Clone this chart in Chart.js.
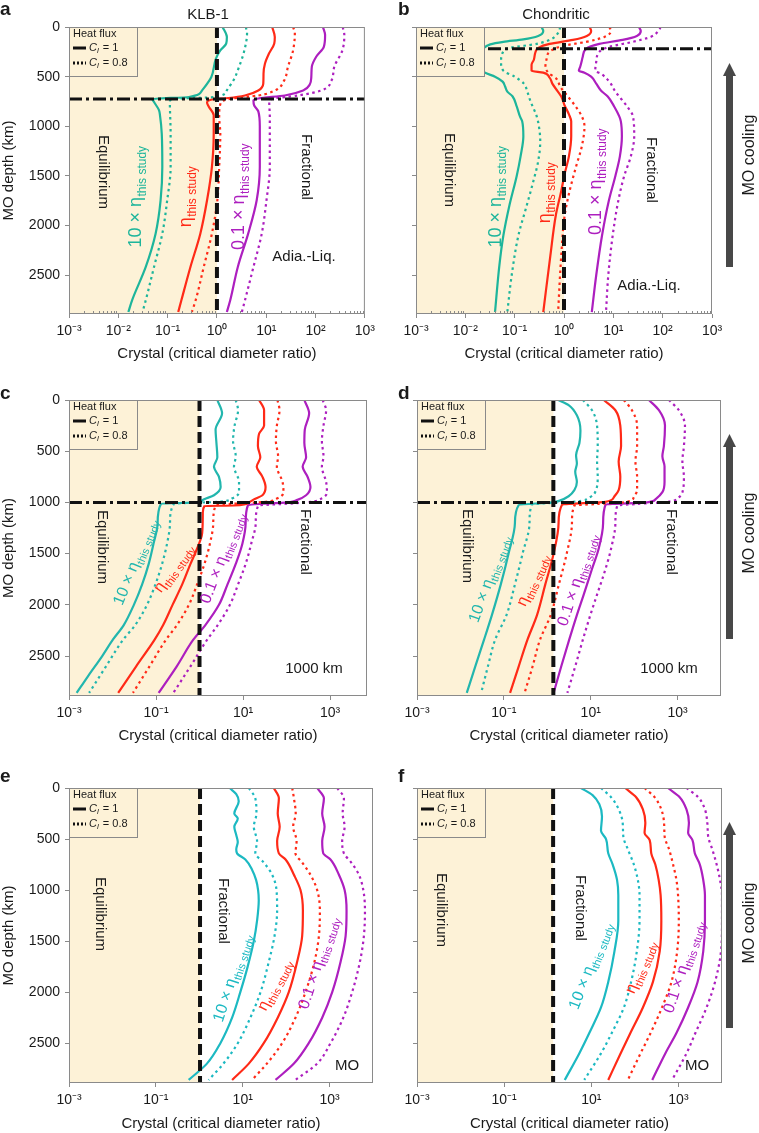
<!DOCTYPE html>
<html>
<head>
<meta charset="utf-8">
<script src="https://cdn.jsdelivr.net/npm/chart.js@4.4.1/dist/chart.umd.min.js"></script>
<style>
body{margin:0;background:#fff;width:759px;height:1133px;position:relative;overflow:hidden}
canvas{position:absolute}
</style>
</head>
<body>
<canvas id="pa"></canvas><canvas id="pb"></canvas>
<canvas id="pc"></canvas><canvas id="pd"></canvas>
<canvas id="pe"></canvas><canvas id="pf"></canvas>
<script>
// tick values and labels
const depthTicks = [0, 500, 1000, 1500, 2000, 2500];
const depthMax = 2890;
const xMin = 0.001;
const xTicksAB = [0.001, 0.01, 0.1, 1, 10, 100, 1000];
const xLabelsAB = ['10⁻³', '10⁻²', '10⁻¹', '10⁰', '10¹', '10²', '10³'];
const xTicksCF = [0.001, 0.1, 10, 1000];
const xLabelsCF = ['10⁻³', '10⁻¹', '10¹', '10³'];
const minorSteps = [2, 3, 4, 5, 6, 7, 8, 9];

// equilibrium / fractional boundary and transition depth (km)
const boundary = {a: 1, b: 1, c: 1, d: 1.38, e: 1.04, f: 1.33};
const transition = {a: 725, b: 220, c: 1000, d: 1000};

// curves: [crystal ratio, depth km]; _1 = C_l 1 (solid), _08 = C_l 0.8 (dotted)
const a_teal_1 = [[1.3,0],[1.59,100],[1.54,168],[1.17,235],[0.95,320],[0.77,503],[0.50,638],[0.27,705],[0.049,725],[0.053,755],[0.067,839],[0.070,889],[0.076,1074],[0.078,1410],[0.072,1745],[0.057,2081],[0.036,2416],[0.019,2752],[0.016,2870]];
const a_teal_08 = [[3.84,0],[4.08,60],[3.6,235],[2.8,403],[2.17,537],[1.59,638],[0.93,705],[0.124,725],[0.111,755],[0.115,1074],[0.115,1410],[0.098,1745],[0.078,2081],[0.053,2416],[0.036,2752],[0.031,2870]];
const a_red_1 = [[13.2,0],[14.9,100],[14.5,168],[11.3,270],[9.4,370],[8.8,470],[8.7,570],[6.9,640],[3.7,690],[1.72,715],[0.79,730],[0.63,760],[0.68,800],[0.86,889],[0.86,1074],[0.79,1410],[0.63,1745],[0.46,2081],[0.29,2416],[0.19,2752],[0.164,2870]];
const a_red_08 = [[35,0],[38,60],[35,235],[27.6,400],[23,540],[14.9,640],[6.9,690],[2.0,720],[1.2,760],[1.11,900],[1.17,1074],[1.11,1410],[1.02,1745],[0.79,2081],[0.54,2416],[0.37,2752],[0.31,2870]];
const a_purple_1 = [[141,0],[156,80],[147,200],[103,300],[84,400],[82,500],[76,580],[56,640],[23.8,690],[6.9,720],[5.5,740],[5.7,790],[6.9,850],[7.4,1000],[7.4,1410],[6.4,1745],[4.3,2081],[2.65,2416],[1.86,2752],[1.59,2870]];
const a_purple_08 = [[355,0],[383,80],[350,235],[240,400],[209,540],[130,640],[44,690],[12.8,725],[11.5,760],[11.8,900],[11.8,1410],[10.1,1745],[8.1,2081],[5.5,2416],[3.7,2752],[3.2,2870]];

const b_teal_1 = [[0.35,0],[0.38,40],[0.30,90],[0.149,125],[0.059,150],[0.032,175],[0.023,220],[0.0186,350],[0.025,460],[0.040,500],[0.057,550],[0.064,600],[0.071,650],[0.091,700],[0.11,800],[0.128,900],[0.142,950],[0.15,1100],[0.132,1300],[0.11,1500],[0.078,1800],[0.059,2100],[0.049,2400],[0.040,2870]];
const b_teal_08 = [[0.84,0],[0.76,60],[0.56,120],[0.28,170],[0.081,210],[0.057,260],[0.053,350],[0.059,440],[0.10,500],[0.154,570],[0.18,650],[0.21,750],[0.28,900],[0.31,1000],[0.33,1150],[0.30,1350],[0.24,1550],[0.175,1800],[0.119,2100],[0.087,2500],[0.071,2870]];
const b_red_1 = [[3.3,0],[3.55,40],[2.9,90],[1.52,130],[0.51,170],[0.30,210],[0.265,250],[0.245,330],[0.22,380],[0.22,440],[0.38,460],[0.51,510],[0.58,570],[0.68,620],[0.88,700],[1.03,790],[1.26,880],[1.40,950],[1.40,1100],[1.26,1300],[1.03,1480],[0.88,1650],[0.68,1900],[0.53,2300],[0.38,2870]];
const b_red_08 = [[8.3,0],[8.9,40],[6.6,100],[2.8,150],[0.95,190],[0.51,250],[0.44,330],[0.42,400],[0.48,460],[0.70,520],[0.84,600],[1.2,700],[1.72,800],[2.3,900],[2.6,1000],[2.3,1200],[1.77,1400],[1.3,1650],[1.03,1900],[0.88,2300],[0.76,2870]];
const b_purple_1 = [[33,0],[36,40],[30,90],[15.4,130],[5.2,170],[2.8,220],[2.4,300],[2.13,400],[2.0,440],[2.6,460],[3.55,500],[4.5,570],[5.6,640],[7.7,700],[10.4,800],[13.2,900],[14.2,950],[14.9,1100],[13.6,1300],[11.0,1500],[8.1,1750],[5.9,2100],[4.5,2500],[3.66,2870]];
const b_purple_08 = [[91,0],[82,40],[57,100],[24.5,150],[8.3,200],[5.2,250],[4.5,350],[4.3,440],[5.6,470],[8.3,550],[11.0,650],[14.2,720],[19,800],[25,900],[26.5,1100],[22.7,1300],[16.6,1500],[12.6,1750],[9.7,2100],[7.9,2500],[7.1,2870]];

const c_teal_1 = [[2.57,0],[3.3,130],[2.34,290],[2.45,420],[2.57,560],[2.15,650],[2.8,750],[3.06,850],[2.15,930],[1.15,980],[0.88,1000],[0.13,1012],[0.109,1200],[0.088,1400],[0.068,1600],[0.048,1800],[0.031,2000],[0.018,2200],[0.0102,2340],[0.0058,2500],[0.0027,2700],[0.0015,2860]];
const c_teal_08 = [[6.8,0],[7.7,100],[6.4,250],[5.9,400],[6.8,550],[6.2,650],[8.1,800],[8.1,900],[5.7,960],[2.57,995],[0.26,1012],[0.21,1200],[0.18,1400],[0.138,1600],[0.097,1800],[0.062,2000],[0.033,2200],[0.0176,2340],[0.0071,2600],[0.0029,2860]];
const c_red_1 = [[23.4,0],[30.5,100],[30.5,250],[23.4,330],[22,450],[25,560],[20.7,650],[28,750],[33,850],[28,930],[17.8,970],[13.8,1000],[6.2,1030],[1.3,1035],[1.19,1100],[1.15,1300],[0.88,1450],[0.62,1600],[0.40,1800],[0.24,2000],[0.145,2200],[0.093,2340],[0.035,2600],[0.0135,2860]];
const c_red_08 = [[62,0],[69,100],[60,250],[57,400],[64,550],[60,650],[81,800],[85,900],[62,960],[30.5,995],[5.2,1015],[2.34,1030],[2.07,1200],[1.74,1400],[1.3,1600],[0.88,1800],[0.57,2000],[0.30,2200],[0.17,2340],[0.071,2600],[0.0295,2860]];
const c_purple_1 = [[257,0],[331,130],[263,290],[257,420],[282,560],[235,650],[305,750],[355,850],[282,930],[178,975],[105,1000],[13,1025],[11.5,1200],[9.7,1400],[6.8,1600],[4.4,1800],[2.8,2000],[1.35,2200],[0.72,2340],[0.30,2600],[0.115,2860]];
const c_purple_08 = [[676,0],[813,100],[708,250],[650,400],[708,550],[650,650],[813,800],[850,900],[650,960],[363,995],[89,1015],[22.4,1030],[19.6,1200],[15.5,1400],[11.5,1600],[7.7,1800],[5.0,2000],[2.6,2200],[1.5,2340],[0.62,2600],[0.25,2860]];

const d_teal_1 = [[1.8,0],[3.1,50],[4.8,150],[5.8,300],[5.5,420],[4.6,540],[4.8,620],[4.4,700],[4.8,800],[4.2,880],[3.1,940],[2.0,980],[1.3,1000],[0.22,1025],[0.18,1200],[0.128,1500],[0.085,1800],[0.053,2100],[0.035,2340],[0.022,2600],[0.014,2860]];
const d_teal_08 = [[6.6,0],[10.7,100],[14,250],[14.5,450],[14,600],[14.5,750],[13.2,880],[9.5,950],[4.8,990],[0.44,1020],[0.39,1200],[0.27,1500],[0.18,1800],[0.115,2100],[0.063,2340],[0.043,2600],[0.030,2860]];
const d_red_1 = [[20,0],[37,100],[48,250],[50,450],[44,600],[48,750],[44,880],[34,950],[22,995],[2.2,1020],[1.82,1200],[1.4,1500],[0.90,1800],[0.58,2100],[0.35,2340],[0.22,2600],[0.139,2860]];
const d_red_08 = [[58,0],[89,100],[117,250],[117,450],[107,600],[117,750],[117,880],[98,950],[69,995],[14,1015],[4.2,1030],[3.7,1200],[2.8,1500],[1.85,1800],[1.2,2100],[0.68,2340],[0.46,2600],[0.30,2860]];
const d_purple_1 = [[219,0],[372,100],[513,250],[484,450],[447,550],[501,650],[501,800],[447,900],[309,970],[199,1000],[22,1020],[19.3,1200],[15.3,1450],[10.7,1650],[6.9,1900],[4.8,2100],[3.2,2340],[2.1,2600],[1.4,2860]];
const d_purple_08 = [[631,0],[1070,100],[1480,250],[1400,450],[1290,600],[1400,750],[1330,880],[1070,950],[575,995],[117,1015],[41,1030],[37,1200],[29.5,1450],[21.9,1650],[14,1900],[9.8,2100],[6.6,2340],[4.4,2600],[2.9,2860]];

const e_teal_1 = [[5.0,0],[7.1,60],[8.1,130],[6.4,250],[7.7,300],[6.4,380],[7.1,460],[7.7,530],[7.1,600],[7.4,640],[11.5,700],[16.4,800],[20.3,900],[22.6,1000],[23.4,1100],[21.4,1300],[18,1500],[13,1750],[8.8,2000],[5.7,2250],[3.06,2500],[1.5,2700],[0.57,2860]];
const e_teal_08 = [[13.8,0],[19.5,100],[20.7,250],[18,380],[21.4,520],[19.5,640],[30.5,730],[47.6,850],[60,1000],[62,1200],[54,1450],[40,1700],[25.7,2000],[15,2250],[7.7,2500],[3.6,2700],[1.64,2860]];
const e_red_1 = [[52,0],[68,100],[64,250],[71,380],[62,520],[68,640],[97,700],[151,850],[214,1000],[243,1200],[234,1450],[180,1700],[115,2000],[64,2250],[30.5,2500],[13.8,2700],[5.7,2860]];
const e_red_08 = [[138,0],[151,100],[166,250],[145,380],[174,520],[164,640],[234,730],[363,850],[519,1000],[598,1200],[568,1450],[451,1700],[279,2000],[164,2250],[81,2500],[36,2700],[16.4,2860]];
const e_purple_1 = [[519,0],[741,100],[676,250],[767,380],[676,520],[714,640],[1050,700],[1640,850],[2220,1000],[2460,1200],[2340,1450],[1800,1700],[1150,2000],[676,2250],[331,2500],[151,2700],[57,2860]];
const e_purple_08 = [[1500,0],[2140,100],[2000,250],[2220,380],[1950,520],[2140,640],[3160,730],[4750,850],[5980,1000],[6530,1200],[6170,1450],[5010,1700],[3310,2000],[2070,2250],[1050,2500],[519,2700],[164,2860]];

const f_teal_1 = [[5.8,0],[10.7,70],[15.3,160],[17.6,280],[16.7,420],[21.8,500],[24.5,640],[31,750],[39,900],[41.7,1050],[41.7,1300],[34,1600],[24.5,1900],[16.7,2150],[9,2400],[5.3,2600],[2.46,2860]];
const f_teal_08 = [[16.7,0],[28.4,90],[42.7,210],[52.5,340],[54.5,480],[69,600],[95,750],[117,900],[128,1050],[128,1300],[111,1600],[82,1900],[56,2150],[29.5,2400],[16.7,2600],[6.9,2860]];
const f_red_1 = [[60,0],[107,90],[153,210],[174,340],[167,440],[219,510],[238,640],[295,750],[352,900],[390,1050],[405,1300],[372,1600],[260,1900],[153,2150],[79,2400],[47,2600],[24.5,2860]];
const f_red_08 = [[167,0],[284,90],[405,210],[468,340],[484,480],[610,600],[754,750],[900,900],[980,1050],[1020,1300],[935,1600],[692,1900],[420,2150],[230,2400],[135,2600],[69,2860]];
const f_purple_1 = [[575,0],[1070,90],[1530,210],[1740,340],[1670,440],[2100,510],[2380,640],[3100,750],[3710,900],[4060,1050],[4060,1300],[3710,1600],[2750,1900],[1670,2150],[900,2400],[500,2600],[251,2860]];
const f_purple_08 = [[1530,0],[2840,90],[4060,210],[4600,340],[4840,480],[5980,600],[7540,750],[9000,900],[10000,1050],[10000,1300],[9480,1600],[6920,1900],[4430,2150],[2450,2400],[1530,2600],[714,2860]];

const FONT = "'Liberation Sans', Arial, Helvetica, sans-serif";
const TEXT = '#1a1a1a';
const RED = '#ff2a17';
const PURPLE = '#ad1fbf';
const YELLOW = '#fdf2d7';
const FRAME = '#8a8a8a';

function pts(arr) { return arr.map(p => ({x: p[0], y: p[1]})); }

function rotText(ctx, s, x, y, rot, size, color) {
    ctx.save();
    ctx.translate(x, y);
    ctx.rotate(rot * Math.PI / 180);
    ctx.fillStyle = color || TEXT;
    ctx.font = size + 'px ' + FONT;
    ctx.textAlign = 'center';
    ctx.textBaseline = 'middle';
    ctx.fillText(s, 0, 0);
    ctx.restore();
}

function etaLabel(ctx, pre, x, y, rot, color, size) {
    const sub = Math.round(size * 0.68);
    ctx.save();
    ctx.translate(x, y);
    ctx.rotate(rot * Math.PI / 180);
    ctx.fillStyle = color;
    ctx.textBaseline = 'alphabetic';
    ctx.font = size + 'px ' + FONT;
    const main = pre + 'η';
    const w1 = ctx.measureText(main).width;
    ctx.font = sub + 'px ' + FONT;
    const w2 = ctx.measureText('this study').width;
    const x0 = -(w1 + w2) / 2;
    ctx.font = size + 'px ' + FONT;
    ctx.fillText(main, x0, size * 0.3);
    ctx.font = sub + 'px ' + FONT;
    ctx.fillText('this study', x0 + w1 + 0.5, size * 0.3 + sub * 0.4);
    ctx.restore();
}

function legendRow(ctx, L, y, val, dotted) {
    ctx.save();
    ctx.strokeStyle = '#111';
    ctx.lineWidth = 3;
    if (dotted) ctx.setLineDash([2, 2]);
    ctx.beginPath(); ctx.moveTo(L + 4, y); ctx.lineTo(L + 17, y); ctx.stroke();
    ctx.restore();
    ctx.fillStyle = TEXT;
    ctx.textBaseline = 'middle';
    ctx.textAlign = 'left';
    let x = L + 20;
    ctx.font = 'italic 11px ' + FONT;
    ctx.fillText('C', x, y);
    x += ctx.measureText('C').width;
    ctx.font = 'italic 8px ' + FONT;
    ctx.fillText('l', x, y + 3);
    x += ctx.measureText('l').width + 1;
    ctx.font = '11px ' + FONT;
    ctx.fillText(' = ' + val, x, y);
}

const panelDeco = {
    id: 'panelDeco',
    beforeDatasetsDraw(chart, args, o) {
        const {ctx, chartArea: ca} = chart;
        const bx = chart.scales.x.getPixelForValue(o.boundary);
        ctx.save();
        ctx.fillStyle = YELLOW;
        ctx.fillRect(ca.left, ca.top, bx - ca.left, ca.bottom - ca.top);
        ctx.restore();
    },
    afterDatasetsDraw(chart, args, o) {
        const {ctx, chartArea: ca} = chart;
        const sx = chart.scales.x;
        const ox = o.ox, oy = o.oy;
        ctx.save();
        // frame
        ctx.strokeStyle = FRAME;
        ctx.lineWidth = 1;
        ctx.strokeRect(ca.left + 0.5, ca.top + 0.5, ca.right - ca.left - 1, ca.bottom - ca.top - 1);
        // minor ticks inside bottom axis
        if (o.minor) {
            ctx.beginPath();
            for (let n = -3; n < 3; n++) {
                minorSteps.forEach(m => {
                    const px = Math.round(sx.getPixelForValue(m * Math.pow(10, n))) + 0.5;
                    ctx.moveTo(px, ca.bottom);
                    ctx.lineTo(px, ca.bottom - 3);
                });
            }
            ctx.stroke();
        }
        // legend box
        const L = ca.left, T = ca.top;
        ctx.fillStyle = YELLOW;
        ctx.fillRect(L, T, 68, 49);
        ctx.strokeStyle = FRAME;
        ctx.strokeRect(L + 0.5, T + 0.5, 68, 49);
        ctx.fillStyle = TEXT;
        ctx.font = '11px ' + FONT;
        ctx.textBaseline = 'middle';
        ctx.textAlign = 'left';
        ctx.fillText('Heat flux', L + 4, T + 7);
        legendRow(ctx, L, T + 21, '1', false);
        legendRow(ctx, L, T + 36, '0.8', true);
        // panel letter and title
        ctx.font = 'bold 19px ' + FONT;
        ctx.textBaseline = 'alphabetic';
        ctx.fillText(o.letter[0], o.letter[1] - ox, o.letter[2] - oy);
        if (o.title) rotText(ctx, o.title[0], o.title[1] - ox, o.title[2] - oy, 0, 15);
        // region labels
        o.texts.forEach(t => rotText(ctx, t[0], t[1] - ox, t[2] - oy, t[3], 15));
        // curve labels
        const cols = [o.teal, RED, PURPLE];
        o.etas.forEach((e, i) => etaLabel(ctx, e[0], e[1] - ox, e[2] - oy, e[3], cols[i], o.etaSize));
        // MO cooling arrow
        if (o.arrow) {
            const [ax, tip, bot, ty] = o.arrow;
            const x = ax - ox;
            ctx.fillStyle = '#484848';
            ctx.fillRect(x - 3.5, tip + 12 - oy, 7, bot - tip - 12);
            ctx.beginPath();
            ctx.moveTo(x, tip - oy);
            ctx.lineTo(x + 6.5, tip + 13 - oy);
            ctx.lineTo(x - 6.5, tip + 13 - oy);
            ctx.closePath();
            ctx.fill();
            rotText(ctx, 'MO cooling', 750 - ox, ty - oy, -90, 16);
        }
        ctx.restore();
    }
};
Chart.register(panelDeco);

function makePanel(p) {
    const cv = document.getElementById('p' + p.id);
    const [ox, oy, w, h] = p.canvas;
    const [L, T, R, B] = p.area;
    cv.width = w; cv.height = h;
    cv.style.left = ox + 'px'; cv.style.top = oy + 'px';

    const ds = [];
    ds.push({data: pts([[boundary[p.id], 0], [boundary[p.id], depthMax]]),
        borderColor: '#111', borderWidth: 4, borderDash: [11, 5], tension: 0});
    if (transition[p.id] != null) {
        ds.push({data: pts([[xMin, transition[p.id]], [p.xMax, transition[p.id]]]),
            borderColor: '#111', borderWidth: 3, borderDash: [13, 4, 3, 4], tension: 0});
    }
    const colors = [p.teal, p.teal, RED, RED, PURPLE, PURPLE];
    p.curves.forEach((c, i) => ds.push({
        data: pts(c), borderColor: colors[i], borderWidth: 2.2,
        borderDash: i % 2 ? [2.5, 3.5] : [], cubicInterpolationMode: 'monotone'
    }));

    const tickFont = {family: FONT, size: 14};
    new Chart(cv, {
        type: 'line',
        data: {datasets: ds},
        options: {
            responsive: false,
            animation: false,
            indexAxis: 'y',
            layout: {padding: {top: T - oy, right: ox + w - R, left: 0, bottom: 0}},
            elements: {point: {radius: 0}, line: {borderJoinStyle: 'round'}},
            plugins: {
                legend: {display: false},
                tooltip: {enabled: false},
                panelDeco: Object.assign({ox: ox, oy: oy, boundary: boundary[p.id]}, p)
            },
            scales: {
                x: {
                    type: 'logarithmic', position: 'bottom', min: xMin, max: p.xMax,
                    afterFit: s => { s.height = oy + h - B; },
                    afterBuildTicks: s => { s.ticks = p.xTicks.map(v => ({value: v})); },
                    ticks: {autoSkip: false, maxRotation: 0, padding: 5, color: TEXT, font: tickFont,
                        callback: (v, i) => p.xLabels[i]},
                    grid: {drawOnChartArea: false, tickLength: 4, color: FRAME},
                    border: {display: false},
                    title: {display: true, text: 'Crystal (critical diameter ratio)', color: TEXT,
                        font: {family: FONT, size: 15}, padding: {top: 0, bottom: 0.5}}
                },
                y: {
                    type: 'linear', reverse: true, min: 0, max: depthMax,
                    afterFit: s => { s.width = L - ox; },
                    afterBuildTicks: s => { s.ticks = depthTicks.map(v => ({value: v})); },
                    ticks: {padding: 5, color: TEXT, font: tickFont,
                        callback: v => p.yLabels ? String(v) : ''},
                    grid: {drawOnChartArea: false, tickLength: 4, color: FRAME},
                    border: {display: false},
                    title: {display: p.yLabels, text: 'MO depth (km)', color: TEXT,
                        font: {family: FONT, size: 15}, padding: {top: 0, bottom: 0}}
                }
            }
        }
    });
}

const TEAL_AB = '#1db59b';
const TEAL_CD = '#22b6ae';
const TEAL_EF = '#1cb9c2';

makePanel({id: 'a', canvas: [0, 0, 380, 363], area: [69, 27, 367, 314], xMax: 1000,
    xTicks: xTicksAB, xLabels: xLabelsAB, minor: true, yLabels: true, teal: TEAL_AB, etaSize: 18,
    curves: [a_teal_1, a_teal_08, a_red_1, a_red_08, a_purple_1, a_purple_08],
    letter: ['a', 0, 15], title: ['KLB-1', 208, 15],
    texts: [['Equilibrium', 103, 172, 90], ['Fractional', 306, 167, 90], ['Adia.-Liq.', 304, 257, 0]],
    etas: [['10 × ', 136, 197, -90], ['', 186, 197, -90], ['0.1 × ', 239, 197, -90]]});

makePanel({id: 'b', canvas: [380, 0, 379, 363], area: [416, 27, 712, 314], xMax: 1000,
    xTicks: xTicksAB, xLabels: xLabelsAB, minor: true, yLabels: false, teal: TEAL_AB, etaSize: 18,
    curves: [b_teal_1, b_teal_08, b_red_1, b_red_08, b_purple_1, b_purple_08],
    letter: ['b', 398, 15], title: ['Chondritic', 556, 15],
    texts: [['Equilibrium', 449, 170, 90], ['Fractional', 651, 170, 90], ['Adia.-Liq.', 649, 286, 0]],
    etas: [['10 × ', 496, 197, -90], ['', 545, 193, -90], ['0.1 × ', 596, 182, -90]],
    arrow: [729.5, 63, 267, 155]});

makePanel({id: 'c', canvas: [0, 363, 380, 382], area: [69, 400, 367, 696], xMax: 7080,
    xTicks: xTicksCF, xLabels: xLabelsCF, minor: false, yLabels: true, teal: TEAL_CD, etaSize: 16,
    curves: [c_teal_1, c_teal_08, c_red_1, c_red_08, c_purple_1, c_purple_08],
    letter: ['c', 0, 399],
    texts: [['Equilibrium', 102, 547, 90], ['Fractional', 305, 542, 90], ['1000 km', 314, 669, 0]],
    etas: [['10 × ', 135, 562, -68], ['', 173, 568, -55], ['0.1 × ', 222, 558, -69]]});

makePanel({id: 'd', canvas: [380, 363, 379, 382], area: [417, 400, 721, 696], xMax: 10000,
    xTicks: xTicksCF, xLabels: xLabelsCF, minor: false, yLabels: false, teal: TEAL_CD, etaSize: 16,
    curves: [d_teal_1, d_teal_08, d_red_1, d_red_08, d_purple_1, d_purple_08],
    letter: ['d', 398, 399],
    texts: [['Equilibrium', 467, 546, 90], ['Fractional', 671, 542, 90], ['1000 km', 669, 669, 0]],
    etas: [['10 × ', 489, 579, -70], ['', 532, 580, -66], ['0.1 × ', 577, 580, -72]],
    arrow: [729.5, 434, 639, 533]});

makePanel({id: 'e', canvas: [0, 745, 380, 388], area: [69, 788, 373, 1083], xMax: 10000,
    xTicks: xTicksCF, xLabels: xLabelsCF, minor: false, yLabels: true, teal: TEAL_EF, etaSize: 16,
    curves: [e_teal_1, e_teal_08, e_red_1, e_red_08, e_purple_1, e_purple_08],
    letter: ['e', 0, 782],
    texts: [['Equilibrium', 100, 914, 90], ['Fractional', 223, 911, 90], ['MO', 347, 1066, 0]],
    etas: [['10 × ', 232, 978, -72], ['', 274, 985, -63], ['0.1 × ', 318, 963, -72]]});

makePanel({id: 'f', canvas: [380, 745, 379, 388], area: [417, 788, 722, 1083], xMax: 10000,
    xTicks: xTicksCF, xLabels: xLabelsCF, minor: false, yLabels: false, teal: TEAL_EF, etaSize: 16,
    curves: [f_teal_1, f_teal_08, f_red_1, f_red_08, f_purple_1, f_purple_08],
    letter: ['f', 398, 782],
    texts: [['Equilibrium', 441, 910, 90], ['Fractional', 580, 908, 90], ['MO', 697, 1066, 0]],
    etas: [['10 × ', 590, 966, -69], ['', 640, 967, -68], ['0.1 × ', 683, 967, -72]],
    arrow: [729.5, 822, 1028, 923]});
</script>
</body>
</html>
